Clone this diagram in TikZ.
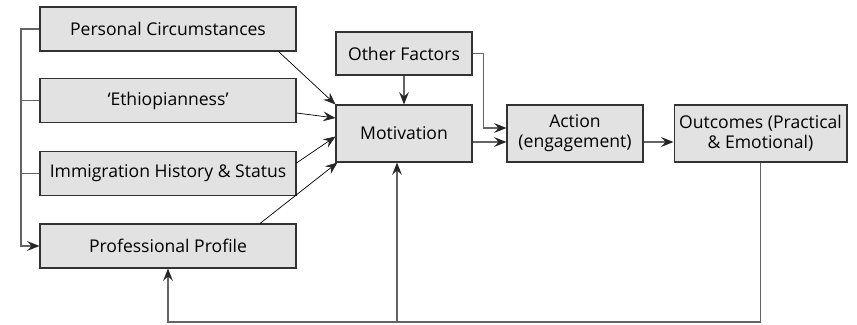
\documentclass[tikz,border=0pt]{standalone}
\usepackage{fontspec}
\setmainfont{Open Sans}
\usetikzlibrary{calc}
\usetikzlibrary{arrows.meta}

\definecolor{boxfill}{RGB}{226,226,226}
\definecolor{boxline}{RGB}{50,50,50}
\definecolor{wire}{RGB}{100,100,100}

\begin{document}
\begin{tikzpicture}[x=0.02cm, y=-0.02cm, >={Stealth[length=7pt,width=5.5pt,inset=2.5pt,color=black!85]}]
                \tikzstyle{box} = [draw=boxline, fill=boxfill, line width=0.6pt, align=center,
                                   inner sep=1pt, font=\fontsize{10}{11.5}\selectfont, minimum width={#1}]
                \tikzstyle{wide} = [box=5.12cm, minimum height=0.88cm]
                \tikzstyle{step box} = [box=2.72cm, minimum height=1.14cm]
                \tikzstyle{link} = [wire, line width=0.8pt]
                \tikzstyle{feed} = [black, line width=0.4pt]
                \useasboundingbox (0, 0) rectangle (857, 324);
                % factors on the left
                \node[wide] (pers) at (168, 29) {Personal Circumstances};
                \node[wide] (ethi) at (168, 100.5) {`Ethiopianness'};
                \node[wide] (immi) at (168, 173.5) {Immigration History \& Status};
                \node[wide] (prof) at (168, 246) {Professional Profile};
                % main chain
                \node[box=2.72cm, minimum height=0.86cm] (other) at (404, 53.5) {Other Factors};
                \node[step box] (motiv) at (404, 133.5) {Motivation};
                \node[step box] (act) at (575, 133.5) {Action\\(engagement)};
                \node[box=3.46cm, minimum height=1.14cm] (outc) at (760.5, 133.5) {Outcomes (Practical\\\& Emotional)};
                \coordinate (bus) at (21, 0);
                \coordinate (fb) at (0, 322);
                \coordinate (up) at ($(motiv.south)+(-7, 0)$);
                % bracket on the left
                \draw[link, ->] (pers.west) -- (pers.west -| bus) |- (prof.west);
                \draw[link] (ethi.west) -- (ethi.west -| bus);
                \draw[link] (immi.west) -- (immi.west -| bus);
                % into motivation
                \draw[feed, ->] ($(pers.south east)+(-18, 0)$) -- (motiv.north west);
                \draw[feed, ->] ($(ethi.east)+(0, 12.5)$) -- ($(motiv.west)+(0, -15.5)$);
                \draw[feed, ->] ($(immi.east)+(0, -10.5)$) -- ($(motiv.west)+(0, 3)$);
                \draw[feed, ->] ($(prof.north)+(92, 0)$) -- ($(motiv.south west)+(2, 0)$);
                \draw[link, ->] (other) -- (motiv);
                \draw[link, ->] (other.east) -- ++(11, 0) |- ($(act.west)+(0, -5.5)$);
                \draw[link, ->] ($(motiv.east)+(0, 8.5)$) -- ($(act.west)+(0, 8.5)$);
                \draw[link, ->] ($(act.east)+(0, 8.5)$) -- ($(outc.west)+(0, 8.5)$);
                % feedback loop
                \draw[link, ->] (outc.south) -- (outc.south |- fb) -| (prof.south);
                \draw[link, ->] (up |- fb) -- (up);
            \end{tikzpicture}
\end{document}
